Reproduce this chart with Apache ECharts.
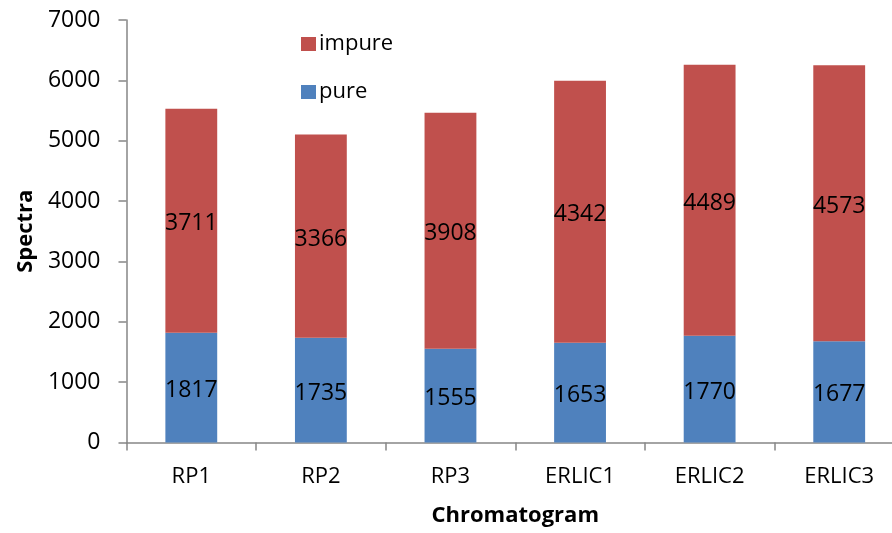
<!DOCTYPE html>
<html>
<head>
<meta charset="utf-8">
<script src="https://cdn.jsdelivr.net/npm/echarts@6/dist/echarts.min.js"></script>
<style>
  html, body { margin: 0; padding: 0; background: #fff; overflow: hidden; }
  #chart { width: 892px; height: 533px; }
</style>
</head>
<body>
<div id="chart"></div>
<script>
// Spectra per chromatogram, split into pure and impure counts
const categories = ['RP1', 'RP2', 'RP3', 'ERLIC1', 'ERLIC2', 'ERLIC3'];
const pureValues = [1817, 1735, 1555, 1653, 1770, 1677];
const impureValues = [3711, 3366, 3908, 4342, 4489, 4573];
const yTicks = [0, 1000, 2000, 3000, 4000, 5000, 6000, 7000];

const FONT = '"Open Sans", "Noto Sans", sans-serif';
const AXIS_GRAY = '#868686';

const chart = echarts.init(document.getElementById('chart'), null, { renderer: 'canvas' });

const labelStyle = {
  show: true,
  position: 'inside',
  offset: [0, 3],
  color: '#000',
  fontFamily: FONT,
  fontSize: 23
};

chart.setOption({
  animation: false,
  backgroundColor: '#fff',
  grid: { left: 126.5, right: -12, top: 20, bottom: 90.5, containLabel: false, outerBoundsMode: 'none' },
  legend: {
    orient: 'vertical',
    left: 296,
    top: 27,
    itemWidth: 15,
    itemHeight: 14,
    itemGap: 24,
    icon: 'rect',
    data: ['impure', 'pure'],
    textStyle: { fontFamily: FONT, fontSize: 22, color: '#000', lineHeight: 24, padding: [0, 0, 0, -2] }
  },
  xAxis: {
    type: 'category',
    data: categories,
    name: 'Chromatogram',
    nameLocation: 'middle',
    nameGap: 62,
    nameTextStyle: { fontFamily: FONT, fontSize: 22, fontWeight: 'bold', color: '#000' },
    axisLine: { lineStyle: { color: AXIS_GRAY, width: 1.5 } },
    axisTick: { show: true, alignWithLabel: false, length: 8, lineStyle: { color: AXIS_GRAY, width: 1.5 } },
    axisLabel: { margin: 23, fontFamily: FONT, fontSize: 22, color: '#000' }
  },
  yAxis: {
    type: 'value',
    min: yTicks[0],
    max: yTicks[yTicks.length - 1],
    interval: 1000,
    name: 'Spectra',
    nameLocation: 'middle',
    nameGap: 90,
    nameTextStyle: { fontFamily: FONT, fontSize: 22, fontWeight: 'bold', color: '#000' },
    splitLine: { show: false },
    axisLine: { show: true, lineStyle: { color: AXIS_GRAY, width: 1.5 } },
    axisTick: { show: true, length: 8, lineStyle: { color: AXIS_GRAY, width: 1.5 } },
    axisLabel: { margin: 26, fontFamily: FONT, fontSize: 23, color: '#000', formatter: v => String(v) }
  },
  series: [
    {
      name: 'pure',
      type: 'bar',
      stack: 'total',
      data: pureValues,
      barWidth: '40%',
      itemStyle: { color: '#4F81BD' },
      label: labelStyle
    },
    {
      name: 'impure',
      type: 'bar',
      stack: 'total',
      data: impureValues,
      barWidth: '40%',
      itemStyle: { color: '#C0504D' },
      label: labelStyle
    }
  ]
});
</script>
</body>
</html>
